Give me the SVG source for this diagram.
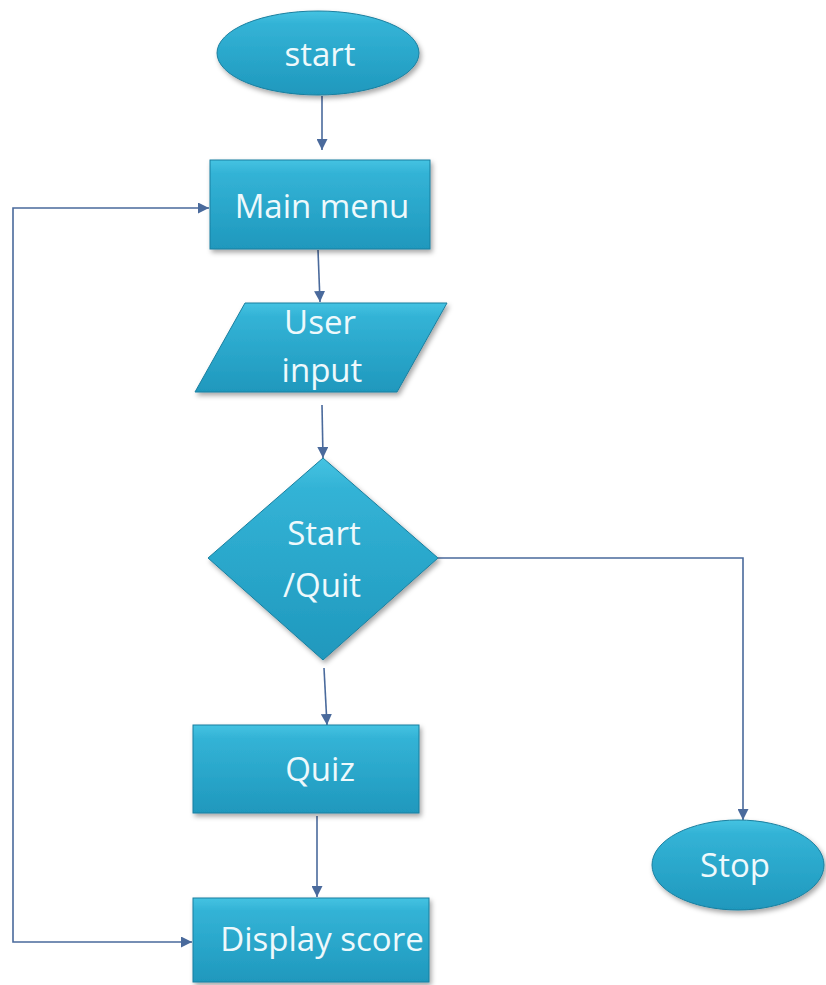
<svg xmlns="http://www.w3.org/2000/svg" width="826" height="985" viewBox="0 0 826 985">
<defs>
  <linearGradient id="fillG" x1="0" y1="0" x2="0" y2="1">
    <stop offset="0" stop-color="#45c3e2"/>
    <stop offset="0.15" stop-color="#33b3d6"/>
    <stop offset="1" stop-color="#1f98bd"/>
  </linearGradient>
  <filter id="sh" x="-10%" y="-10%" width="125%" height="130%">
    <feDropShadow dx="2" dy="3" stdDeviation="2.5" flood-color="#000" flood-opacity="0.35"/>
  </filter>
  <marker id="arr" viewBox="0 0 10 10" refX="10" refY="5" markerWidth="11" markerHeight="11" markerUnits="userSpaceOnUse" orient="auto-start-reverse">
    <path d="M0,0 L10,5 L0,10 z" fill="#4a6a9c"/>
  </marker>
</defs>
<style>
  .shape { fill: url(#fillG); stroke: #1a7f9f; stroke-width: 1; filter: url(#sh); }
  .lbl { font-family: "Open Sans", "Noto Sans", "Liberation Sans", sans-serif; font-size: 33px; fill: #eef9fc; text-anchor: middle; }
  .conn { fill: none; stroke: #4a6a9c; stroke-width: 1.6; }
</style>

<g id="connectors">
  <path class="conn" d="M322,96 L322,150" marker-end="url(#arr)"/>
  <path class="conn" d="M318,250 L320,302" marker-end="url(#arr)"/>
  <path class="conn" d="M322,405 L323,458" marker-end="url(#arr)"/>
  <path class="conn" d="M324,668 L327,725" marker-end="url(#arr)"/>
  <path class="conn" d="M317,816 L317,897" marker-end="url(#arr)"/>
  <path class="conn" d="M438,558 L743,558 L743,820" marker-end="url(#arr)"/>
  <path class="conn" d="M192,942 L13,942 L13,208 L209,208" marker-start="url(#arr)" marker-end="url(#arr)"/>
</g>

<g id="start">
  <ellipse class="shape" cx="318" cy="53" rx="101" ry="42"/>
  <text class="lbl" x="320" y="66">start</text>
</g>

<g id="main-menu">
  <rect class="shape" x="210" y="160" width="220" height="89"/>
  <text class="lbl" x="322" y="218">Main menu</text>
</g>

<g id="user-input">
  <polygon class="shape" points="245,303 447,303 397,392 195,392"/>
  <text class="lbl" x="320" y="334">User</text>
  <text class="lbl" x="322" y="382">input</text>
</g>

<g id="start-quit">
  <polygon class="shape" points="323,458 438,558 323,660 208,558"/>
  <text class="lbl" x="324" y="545">Start</text>
  <text class="lbl" x="322" y="597">/Quit</text>
</g>

<g id="quiz">
  <rect class="shape" x="193" y="725" width="226" height="88"/>
  <text class="lbl" x="320" y="781">Quiz</text>
</g>

<g id="display-score">
  <rect class="shape" x="193" y="898" width="236" height="84"/>
  <text class="lbl" x="322" y="951">Display score</text>
</g>

<g id="stop">
  <ellipse class="shape" cx="738" cy="865" rx="86" ry="45"/>
  <text class="lbl" x="735" y="877">Stop</text>
</g>
</svg>
